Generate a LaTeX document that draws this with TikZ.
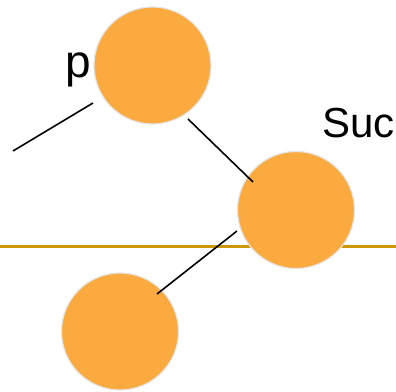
\documentclass[tikz,border=0pt]{standalone}
\usepackage{fontspec}
\setmainfont{Liberation Sans}
\definecolor{ballfill}{HTML}{FBAA40}
\definecolor{ballrim}{HTML}{E6E6E6}
\definecolor{levelline}{HTML}{CC9900}
\begin{document}
\begin{tikzpicture}[x=1pt,y=-1pt,
  ball/.style={circle,fill=ballfill,draw=ballrim,line width=1.2pt,minimum size=117pt,inner sep=0pt},
  edge/.style={black,line width=1.6pt},
  lbl/.style={inner sep=0pt,anchor=base west,text=black}]
\useasboundingbox (0,0) rectangle (396,391);
\coordinate (L) at (0,246.5);
\coordinate (R) at (396,246.5);
\draw[levelline,line width=3.6pt] (L) -- (R);
\node[ball] (top) at (152.5,65.5) {};
\node[ball] (mid) at (296,210) {};
\node[ball] (bot) at (120,331.5) {};
\coordinate (e1a) at (13,151);
\coordinate (e1b) at (93,103);
\coordinate (e2a) at (188,119);
\coordinate (e2b) at (253,182);
\coordinate (e3a) at (237,231);
\coordinate (e3b) at (157,294);
\draw[edge] (e1a) -- (e1b);
\draw[edge] (e2a) -- (e2b);
\draw[edge] (e3a) -- (e3b);
\node[lbl,font=\fontsize{46}{50}\selectfont] (p) at (65,77.3) {p};
\node[lbl,font=\fontsize{42}{46}\selectfont] (suc) at (322,137.3) {Suc};
\end{tikzpicture}
\end{document}
